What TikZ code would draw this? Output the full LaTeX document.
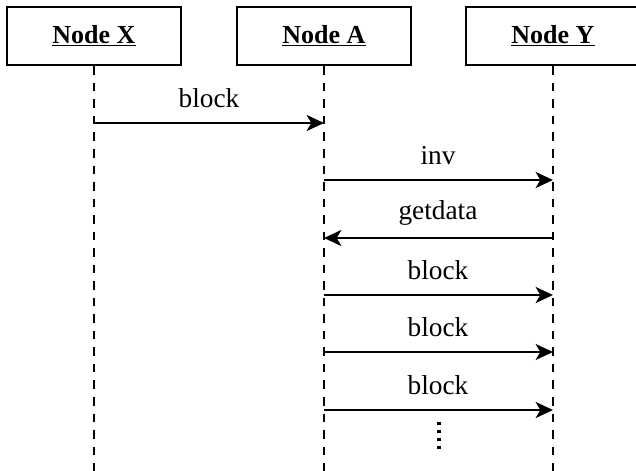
\documentclass[tikz,border=0pt]{standalone}
\usepackage{fontspec}
\setmainfont{Liberation Serif}
\usetikzlibrary{arrows.meta}
\begin{document}
\begin{tikzpicture}[x=0.75pt,y=-0.75pt,
  actor/.style={draw,line width=2pt,minimum width=130.5pt,minimum height=43.5pt,inner sep=0pt,
    font=\fontsize{19.5}{22}\selectfont\bfseries},
  life/.style={line width=2pt,dash pattern=on 6.4pt off 6pt},
  msg/.style={line width=1.9pt,-{Stealth[length=13pt,width=12pt,inset=3.5pt]}},
  lbl/.style={font=\fontsize{20.5}{24}\selectfont,inner sep=0pt}]
\useasboundingbox (0,0) rectangle (636,471);
\node[actor] (X) at (94,36) {\underline{Node X}};
\node[actor] (A) at (324,36) {\underline{Node A}};
\node[actor] (Y) at (553,36) {\underline{Node Y}};
\coordinate (xe) at (94,471);
\coordinate (ae) at (324,471);
\coordinate (ye) at (553,471);
\draw[life] (X.south) -- (xe);
\draw[life] (A.south) -- (ae);
\draw[life] (Y.south) -- (ye);
% messages
\coordinate (x1) at (94,123); \coordinate (a1) at (324,123);
\draw[msg] (x1) -- (a1);
\node[lbl] (l1) at (209,98) {block};
\coordinate (a2) at (324,180); \coordinate (y2) at (553,180);
\draw[msg] (a2) -- (y2);
\node[lbl] (l2) at (438,156) {inv};
\coordinate (a3) at (324,238); \coordinate (y3) at (553,238);
\draw[msg] (y3) -- (a3);
\node[lbl] (l3) at (438,213) {getdata};
\coordinate (a4) at (324,295); \coordinate (y4) at (553,295);
\draw[msg] (a4) -- (y4);
\node[lbl] (l4) at (438,270) {block};
\coordinate (a5) at (324,352); \coordinate (y5) at (553,352);
\draw[msg] (a5) -- (y5);
\node[lbl] (l5) at (438,327) {block};
\coordinate (a6) at (324,410); \coordinate (y6) at (553,410);
\draw[msg] (a6) -- (y6);
\node[lbl] (l6) at (438,385) {block};
\coordinate (d1) at (439,422); \coordinate (d2) at (439,452);
\draw[line width=2.6pt,dash pattern=on 2.6pt off 3.4pt] (d1) -- (d2);
\end{tikzpicture}
\end{document}
